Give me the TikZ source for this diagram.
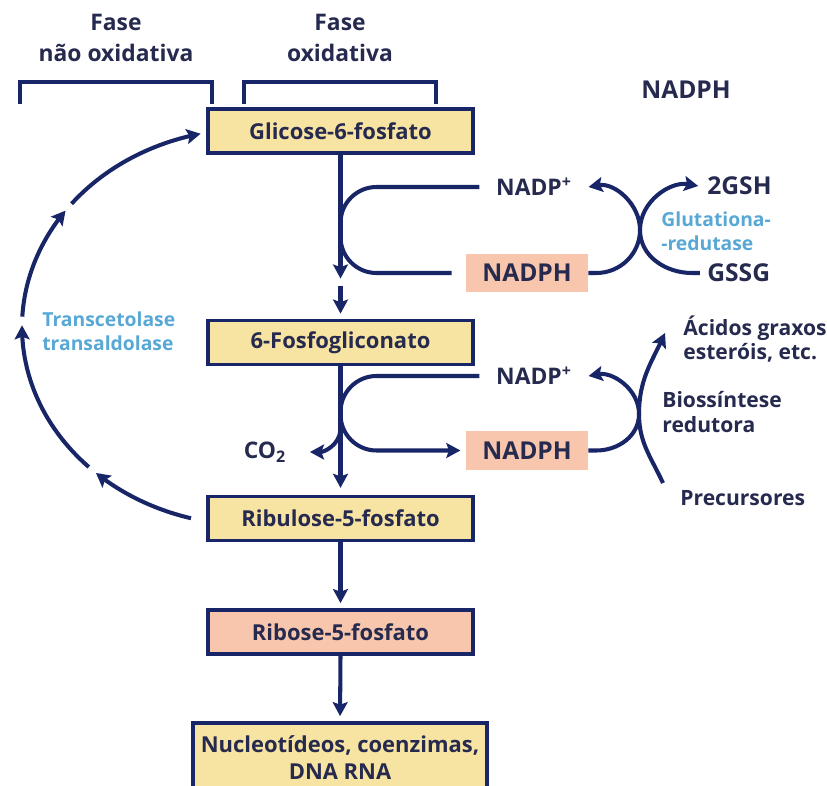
\documentclass[tikz,border=0pt]{standalone}
\usepackage{fontspec}
\setmainfont{Open Sans}
\usetikzlibrary{arrows.meta,calc,positioning}

\definecolor{navy}{RGB}{24,38,104}
\definecolor{ink}{RGB}{38,42,78}
\definecolor{boxyellow}{RGB}{248,228,162}
\definecolor{salmon}{RGB}{247,198,172}
\definecolor{enzblue}{RGB}{88,168,214}

\tikzset{
  ln/.style={draw=navy, line width=2.3pt},
  arr/.style={ln, -{Stealth[length=8pt,width=8.5pt,inset=1.5pt]}},
  stage/.style={draw=navy, line width=1.8pt, fill=boxyellow, text=ink, minimum width=5.3cm,
    minimum height=0.88cm, inner sep=0pt, font=\fontsize{12.5}{15.3}\selectfont\bfseries},
  cofactor/.style={fill=salmon, text=ink, minimum width=2.44cm, minimum height=0.78cm,
    inner sep=0pt, font=\fontsize{14}{16}\selectfont\bfseries},
  phase/.style={text=ink, align=center, font=\fontsize{13}{17.6}\selectfont\bfseries},
  lbl/.style={text=ink, font=\fontsize{13}{16}\selectfont\bfseries},
  big/.style={lbl, font=\fontsize{14}{16}\selectfont\bfseries},
  side/.style={text=ink, align=left, anchor=west, inner sep=0pt, font=\fontsize{12}{14}\selectfont\bfseries},
  enzyme/.style={text=enzblue, align=left, anchor=west, inner sep=0pt, font=\fontsize{11}{13.5}\selectfont\bfseries},
}

\begin{document}
\begin{tikzpicture}[x=0.02cm, y=0.02cm]
\useasboundingbox (0,0) rectangle (827,-786);
\clip (0,0) rectangle (827,-786);

% phases
\node[phase] (fase1) at (116,-38) {Fase\\não oxidativa};
\node[phase] (fase2) at (340,-38) {Fase\\oxidativa};
\draw[ln] (20,-104) |- (212,-82) -- (212,-104);
\draw[ln] (244,-104) |- (436,-82) -- (436,-104);
\node[big] (nadph0) at (686,-90) {NADPH};

% main pathway
\node[stage] (glic) at (340.5,-131) {Glicose-6-fosfato};
\node[stage] (fosfo) at (340.5,-342.5) {6-Fosfogliconato};
\node[stage] (rib) at (340.5,-518.5) {Ribulose-5-fosfato};
\node[stage, fill=salmon] (ribose) at (340.5,-632) {Ribose-5-fosfato};
\node[stage, minimum width=5.88cm, minimum height=1.4cm, align=center] (nuc) at (340,-758) {Nucleotídeos, coenzimas,\\DNA RNA};

\coordinate (g1) at ($(glic.south)+(0,-124)$);
\coordinate (g2) at ($(glic.south)+(0,-131)$);
\draw[arr] (glic.south) -- (g1);
\draw[arr, shorten >=3pt] (g2) -- (fosfo.north);
\draw[arr, shorten >=4pt] (fosfo.south) -- (rib.north);
\draw[arr, shorten >=3pt] (rib.south) -- (ribose.north);
\draw[arr, shorten >=3pt] (ribose.south) -- (nuc.north);

% cofactors
\node[lbl] (nadp1) at (534,-187) {NADP\textsuperscript{+}};
\node[cofactor] (nadph1) at (527,-273) {NADPH};
\node[lbl] (nadp2) at (534,-376) {NADP\textsuperscript{+}};
\node[cofactor] (nadph2) at (527,-450.5) {NADPH};
\node[lbl] (co2) at (265,-452) {CO\textsubscript{2}};

\draw[ln, rounded corners=0.72cm] ([xshift=-6pt]nadp1.west) -- (glic.south |- nadp1.west)
  -- (glic.south |- nadph1.west) -- ([xshift=-8pt]nadph1.west);
\draw[arr, rounded corners=0.72cm, shorten >=3pt] ([xshift=-6pt]nadp2.west) -- (fosfo.south |- nadp2.west)
  -- (fosfo.south |- nadph2.west) -- (nadph2.west);
\coordinate (c0) at ($(fosfo.south)+(0,-64)$);
\draw[arr] (c0) to[out=-95,in=0] ([xshift=10pt]co2.east);

% glutationa
\node[big, anchor=west, inner sep=0pt] (gsh) at (707,-186) {2GSH};
\node[big, anchor=west, inner sep=0pt] (gssg) at (707,-273) {GSSG};
\node[enzyme] (glut) at (661,-231) {Glutationa-\\-redutase};
\coordinate (x1) at (640,-230);
\draw[arr] (nadph1.east) -- ++(8,0) to[out=0,in=-90] (x1) to[out=90,in=10] ([xshift=6pt]nadp1.east);
\draw[arr] ([xshift=-4pt]gssg.west) -- ++(-8,0) to[out=180,in=-90] (x1) to[out=90,in=170] ([xshift=-5pt]gsh.west);

% biossintese
\node[side] (acid) at (683,-339) {Ácidos graxos\\esteróis, etc.};
\node[side] (bios) at (662,-412) {Biossíntese\\redutora};
\node[side] (prec) at (680,-498) {Precursores};
\coordinate (x2) at (639,-414);
\coordinate (p0) at (663,-483);
\coordinate (p1) at (665,-333);
\draw[arr] (nadph2.east) -- ++(8,0) to[out=0,in=-90] (x2) to[out=90,in=10] ([xshift=6pt]nadp2.east);
\draw[arr] (p0) to[out=115,in=-90] (x2) to[out=90,in=-115] (p1);

% non-oxidative cycle
\node[enzyme] (trans) at (42,-331) {Transcetolase\\transaldolase};
\foreach \a/\b in {105/132.5, 135/180.5, 183/216, 218.5/257.5}
  \draw[arr] plot[domain=\a:\b, samples=30] ({250+228*cos(\x)}, {-327-198*sin(\x)});
\end{tikzpicture}
\end{document}
